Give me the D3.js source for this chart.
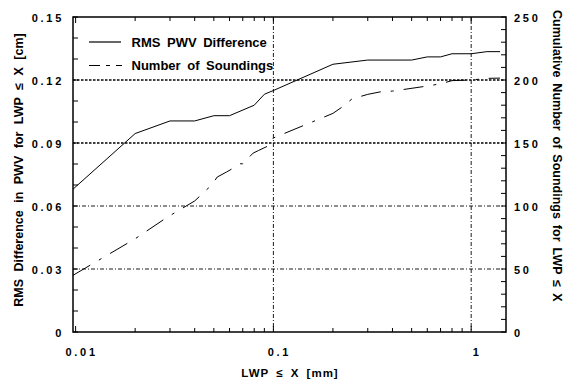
<!DOCTYPE html>
<html><head><meta charset="utf-8">
<script src="https://cdn.jsdelivr.net/npm/d3@7"></script>
<style>
body{margin:0;background:#fff;}
text{font-family:"Liberation Sans",Arial,sans-serif;font-weight:bold;fill:#000;}
</style></head>
<body><svg id="c" width="566" height="381"></svg>
<script>
// ---- data ----
const rmsLWP  = [0.0097,0.02,0.03,0.04,0.05,0.06,0.08,0.09,0.1,0.2,0.3,0.5,0.6,0.7,0.8,1.0,1.2,1.4];
const rmsDiff = [0.068,0.0945,0.1005,0.1005,0.103,0.103,0.108,0.1132,0.115,0.1275,0.1295,0.1295,0.131,0.131,0.1325,0.1325,0.1335,0.1335];
const cntLWP  = [0.0097,0.02,0.029,0.04,0.049,0.052,0.058,0.061,0.068,0.07,0.079,0.084,0.095,0.1,0.2,0.22,0.25,0.3,0.35,0.4,0.6,0.7,0.8,1.0,1.2,1.4];
const cntNum  = [45,74,91,104,117,123,127,129,133.5,133.5,142,144,148,154,173.5,178,185,188.6,190.7,191.2,195.2,197,199.5,200,201.3,201.5];
const xTicks = [0.01,0.1,1];
const xTickLabels = ["0.01","0.1","1"];
const yLeftTicks = [0,0.03,0.06,0.09,0.12,0.15];
const yLeftLabels = ["0","0.03","0.06","0.09","0.12","0.15"];
const yRightTicks = [0,50,100,150,200,250];
const yRightLabels = ["0","50","100","150","200","250"];
const legendLabels = ["RMS PWV Difference","Number of Soundings"];

// ---- layout ----
const L=73,R=506,T=17,B=332;
const svg=d3.select("#c");
const x=d3.scaleLog().domain([0.0097,1.5]).range([L,R]);
const yL=d3.scaleLinear().domain([0,0.15]).range([B,T]);
const yR=d3.scaleLinear().domain([0,250]).range([B,T]);

// grid lines
const g=svg.append("g");
[0.03,0.06,0.09,0.12].forEach(v=>{
  const heavy=v>=0.09;
  g.append("line").attr("x1",L).attr("x2",R).attr("y1",yL(v)).attr("y2",yL(v))
   .attr("stroke","#000").attr("stroke-width",heavy?1.6:0.9)
   .attr("stroke-dasharray",heavy?"2.5,1.5":"4,2,1,2");
});
[0.1,1].forEach(v=>{
  g.append("line").attr("x1",x(v)).attr("x2",x(v)).attr("y1",T).attr("y2",B)
   .attr("stroke","#000").attr("stroke-width",0.9).attr("stroke-dasharray","4,2,1,2");
});

// minor ticks
const minor=[];
[0.01,0.1,1].forEach(d=>{for(let k=1;k<10;k++){const v=d*k; if(v>=0.0097&&v<=1.5) minor.push(v);}});
const tk=svg.append("g").attr("stroke","#000").attr("stroke-width",1);
minor.forEach(v=>{
  const len = (xTicks.includes(+v.toPrecision(3)))?6:4;
  tk.append("line").attr("x1",x(v)).attr("x2",x(v)).attr("y1",B).attr("y2",B-len);
  tk.append("line").attr("x1",x(v)).attr("x2",x(v)).attr("y1",T).attr("y2",T+len);
});
d3.range(0,0.1501,0.01).forEach(v=>{
  tk.append("line").attr("x1",L).attr("x2",L+5).attr("y1",yL(v)).attr("y2",yL(v));
});
d3.range(0,251,10).forEach(v=>{
  tk.append("line").attr("x1",R).attr("x2",R-5).attr("y1",yR(v)).attr("y2",yR(v));
});

// frame
svg.append("rect").attr("x",L).attr("y",T).attr("width",R-L).attr("height",B-T)
  .attr("fill","none").attr("stroke","#000").attr("stroke-width",1.5);

// tick labels
const lab=svg.append("g").style("font-size","11px").style("letter-spacing","2.7px");
xTicks.forEach((v,i)=>{
  lab.append("text").attr("x",x(v)+6).attr("y",355.5).attr("text-anchor","middle").text(xTickLabels[i]);
});
yLeftTicks.forEach((v,i)=>{
  lab.append("text").attr("x",64).attr("y",yL(v)+4.5).attr("text-anchor","end").text(yLeftLabels[i]);
});
yRightTicks.forEach((v,i)=>{
  lab.append("text").attr("x",514).attr("y",yR(v)+4.5).attr("text-anchor","start").text(yRightLabels[i]);
});

// curves
const line=d3.line().x(d=>x(d[0])).y(d=>d[1]);
svg.append("path").attr("d",line(rmsLWP.map((v,i)=>[v,yL(rmsDiff[i])])))
  .attr("fill","none").attr("stroke","#000").attr("stroke-width",1);
svg.append("path").attr("d",line(cntLWP.map((v,i)=>[v,yR(cntNum[i])])))
  .attr("fill","none").attr("stroke","#000").attr("stroke-width",1)
  .attr("stroke-dasharray","20,10,3,10");

// legend
const lg=svg.append("g");
lg.append("line").attr("x1",89).attr("x2",121).attr("y1",42).attr("y2",42).attr("stroke","#000").attr("stroke-width",1.2);
lg.append("line").attr("x1",89).attr("x2",122).attr("y1",65.5).attr("y2",65.5).attr("stroke","#000").attr("stroke-width",1.2)
  .attr("stroke-dasharray","11,6,4,6");
legendLabels.forEach((t,i)=>{
  lg.append("text").attr("x",131.5).attr("y",46.5+i*23.5).style("font-size","13px").style("word-spacing","3px").text(t);
});

// axis titles
svg.append("text").attr("x",290).attr("y",377).attr("text-anchor","middle")
  .style("font-size","11.5px").style("letter-spacing","1px").style("word-spacing","3px").text("LWP ≤ X [mm]");
svg.append("text").attr("transform","translate(23,170) rotate(-90)").attr("text-anchor","middle")
  .style("font-size","12.5px").style("word-spacing","4px").text("RMS Difference in PWV for LWP ≤ X [cm]");
svg.append("text").attr("transform","translate(553,10) rotate(90)").attr("text-anchor","start")
  .style("font-size","12.5px").style("word-spacing","2.5px").text("Cumulative Number of Soundings for LWP ≤ X");
</script></body></html>
